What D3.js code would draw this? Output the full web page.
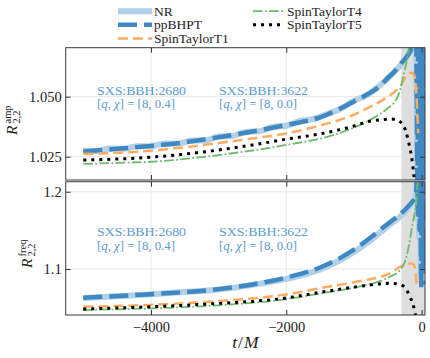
<!DOCTYPE html>
<html><head><meta charset="utf-8">
<script src="https://cdn.jsdelivr.net/npm/d3@7"></script>
<style>
body{margin:0;background:#fff}
svg{display:block}
</style>
</head><body>
<svg id="c" width="430" height="358" style="font-family:'Liberation Serif','DejaVu Serif',serif"></svg>
<script>
// ---------------- data ----------------
const seriesNames = ["NR","ppBHPT","SpinTaylorT1","SpinTaylorT4","SpinTaylorT5"];
const xTicks = [-4000,-2000,0];
const ampTicks = [1.025,1.050];
const freqTicks = [1.1,1.2];
const shadeRange = [-300,50];
const annLines = [["SXS:BBH:2680","8, 0.4"],["SXS:BBH:3622","8, 0.0"]];

// amplitude ratio panel
const nrAmpT = [-5000,-4800,-4600,-4400,-4200,-4000,-3800,-3600,-3400,-3200,-3000,-2800,-2600,-2400,-2200,-2000,-1800,-1600,-1400,-1200,-1000,-800,-600,-400,-200,-150,-120,-100,-88,-76,-64,-52,-40,-28,-16,-4,8,20,32,44];
const nrAmp  = [1.0276,1.0274,1.0284,1.0283,1.0294,1.0293,1.0305,1.0304,1.0317,1.0318,1.0334,1.0336,1.0353,1.0356,1.0374,1.0379,1.0399,1.0407,1.0427,1.0449,1.0483,1.0508,1.0551,1.0604,1.0676,1.0705,1.0740,1.0790,1.0850,1.0600,1.0200,1.0750,1.0300,1.0900,1.0000,1.0900,1.0100,1.0850,1.0000,1.0800];
const ppAmpT = [-5000,-4500,-4000,-3500,-3000,-2500,-2000,-1500,-1000,-800,-600,-500,-400,-300,-200,-150,-120,-100,-85,-72,-60,-48,-36,-24,-12,0,12,24,36,48];
const ppAmp  = [1.0272,1.0283,1.0295,1.0310,1.0331,1.0355,1.0382,1.0414,1.0480,1.0510,1.0548,1.0578,1.0605,1.0640,1.0674,1.0700,1.0730,1.0780,1.0900,1.0500,1.0100,1.0850,1.0050,1.0900,1.0000,1.0950,1.0050,1.0900,1.0100,1.0800];
const t1AmpT = [-5000,-4000,-3000,-2500,-2000,-1500,-1000,-800,-500,-320,-200,-150,-110,-90,-75,-62,-50];
const t1Amp  = [1.0261,1.0275,1.0307,1.0326,1.0347,1.0380,1.0425,1.0452,1.0500,1.0542,1.0595,1.0600,1.0590,1.0565,1.0500,1.0417,1.0349];
const t4AmpT = [-5000,-4500,-4000,-3000,-2000,-1310,-800,-500,-380,-320,-270,-230,-195,-170,-150];
const t4Amp  = [1.0220,1.0224,1.0229,1.0257,1.0299,1.0340,1.0398,1.0452,1.0486,1.0525,1.0585,1.0635,1.0690,1.0740,1.0800];
const t5AmpT = [-5000,-4000,-3000,-2500,-2000,-1500,-1000,-800,-600,-467,-369,-272,-200,-173,-148,-130,-115,-100];
const t5Amp  = [1.0236,1.0248,1.0278,1.0299,1.0323,1.0345,1.0378,1.0396,1.0404,1.0407,1.0403,1.0382,1.0320,1.0286,1.0250,1.0211,1.0174,1.0120];

// frequency ratio panel
const nrFreqT = [-5000,-4500,-4000,-3500,-3000,-2500,-2000,-1500,-1000,-750,-500,-350,-220,-140,-100,-85,-72,-60,-48,-36,-24,-12,0,12,24,36,48];
const nrFreq  = [1.0625,1.0648,1.0672,1.0702,1.0736,1.0795,1.0872,1.0995,1.1220,1.1375,1.1555,1.1655,1.1765,1.1850,1.1900,1.1950,1.2200,1.1650,1.2200,1.1400,1.2200,1.0900,1.2250,1.1000,1.2200,1.1200,1.2200];
const ppFreqT = [-5000,-4000,-3000,-2500,-2000,-1500,-1000,-750,-500,-350,-220,-140,-100,-80,-66,-54,-42,-30,-18,-6,6,18,30,42];
const ppFreq  = [1.0629,1.0675,1.0740,1.0800,1.0890,1.1020,1.1250,1.1410,1.1585,1.1685,1.1790,1.1870,1.1920,1.2000,1.2250,1.1700,1.2250,1.1500,1.2250,1.0750,1.2250,1.1000,1.2250,1.0800];
const t1FreqT = [-5000,-4000,-3000,-2000,-1450,-960,-470,-270,-173,-120,-99,-85,-74,-65];
const t1Freq  = [1.0512,1.0536,1.0585,1.0670,1.0760,1.0836,1.0944,1.1050,1.1070,1.1060,1.1010,1.0920,1.0800,1.0750];
const t4FreqT = [-5000,-4000,-3000,-2000,-1450,-960,-470,-320,-247,-200,-173,-130,-99,-74,-55];
const t4Freq  = [1.0470,1.0491,1.0530,1.0610,1.0690,1.0765,1.0900,1.0987,1.1094,1.1250,1.1380,1.1600,1.1740,1.1920,1.2200];
const t5FreqT = [-5000,-4000,-3000,-2000,-1450,-960,-470,-320,-221,-173,-124,-100,-85];
const t5Freq  = [1.0483,1.0512,1.0555,1.0625,1.0706,1.0770,1.0815,1.0800,1.0728,1.0640,1.0534,1.0440,1.0380];

// ---------------- styles ----------------
const FONT = "'Liberation Serif','DejaVu Serif',serif";
const styles = {
  NR:           {color:"#b2d1e8", width:6,   dash:null},
  ppBHPT:       {color:"#4088c2", width:4.5, dash:"19 7"},
  SpinTaylorT1: {color:"#ffac62", width:2.5, dash:"10 5"},
  SpinTaylorT4: {color:"#6bbc6b", width:1.8, dash:"9.6 2.4 1.8 2.4"},
  SpinTaylorT5: {color:"#000000", width:3,   dash:"3 5"}
};
const annColor = "#5a9bd0";

const svg = d3.select("#c");
const L = 65.7, Rr = 425;
const x = d3.scaleLinear().domain([-5260,50]).range([L,Rr]);

const zip = (t,v) => t.map((d,i)=>[d,v[i]]);
const panels = [
  {top:47.7, bot:180, dom:[1.0153,1.0704], ticks:ampTicks, fmt:".3f", sup:"amp",
   lx:17, ly:135, ann:[94.5,108.3], xlabels:false,
   data:{NR:zip(nrAmpT,nrAmp), ppBHPT:zip(ppAmpT,ppAmp), SpinTaylorT1:zip(t1AmpT,t1Amp), SpinTaylorT4:zip(t4AmpT,t4Amp), SpinTaylorT5:zip(t5AmpT,t5Amp)}},
  {top:181.7, bot:315, dom:[1.0405,1.213], ticks:freqTicks, fmt:".1f", sup:"freq",
   lx:32, ly:268, ann:[236,249.8], xlabels:true,
   data:{NR:zip(nrFreqT,nrFreq), ppBHPT:zip(ppFreqT,ppFreq), SpinTaylorT1:zip(t1FreqT,t1Freq), SpinTaylorT4:zip(t4FreqT,t4Freq), SpinTaylorT5:zip(t5FreqT,t5Freq)}}
];

panels.forEach((p,pi)=>{
  const y = d3.scaleLinear().domain(p.dom).range([p.bot,p.top]);
  const g = svg.append("g");
  const cid = "clip"+pi;
  svg.append("clipPath").attr("id",cid).append("rect")
    .attr("x",L).attr("y",p.top).attr("width",Rr-L).attr("height",p.bot-p.top);
  // grid
  g.selectAll(".gx").data(xTicks).join("line")
    .attr("x1",d=>x(d)).attr("x2",d=>x(d)).attr("y1",p.top).attr("y2",p.bot)
    .attr("stroke","#e4e4e4").attr("stroke-width",0.9);
  g.selectAll(".gy").data(p.ticks).join("line")
    .attr("x1",L).attr("x2",Rr).attr("y1",d=>y(d)).attr("y2",d=>y(d))
    .attr("stroke","#e4e4e4").attr("stroke-width",0.9);
  // shading
  g.append("rect").attr("x",x(shadeRange[0])).attr("y",p.top)
    .attr("width",x(shadeRange[1])-x(shadeRange[0])).attr("height",p.bot-p.top)
    .attr("fill","#dedede");
  // lines
  const lg = g.append("g").attr("clip-path",`url(#${cid})`);
  const line = d3.line().x(d=>x(d[0])).y(d=>y(d[1])).curve(d3.curveMonotoneX);
  seriesNames.forEach(n=>{
    const s = styles[n];
    lg.append("path").datum(p.data[n]).attr("d",line)
      .attr("fill","none").attr("stroke",s.color).attr("stroke-width",s.width)
      .attr("stroke-dasharray",s.dash).attr("stroke-linejoin","round");
  });
  // annotations (two lines)
  [97,219].forEach((ax,i)=>{
    g.append("text").attr("x",ax).attr("y",p.ann[0])
      .attr("textLength",89).attr("lengthAdjust","spacingAndGlyphs")
      .style("font-size","12.5px").style("fill",annColor).style("font-family",FONT)
      .text(annLines[i][0]);
    const t2 = g.append("text").attr("x",ax).attr("y",p.ann[1])
      .attr("textLength",78).attr("lengthAdjust","spacingAndGlyphs")
      .style("font-size","12.5px").style("fill",annColor).style("font-family",FONT);
    t2.append("tspan").text("[");
    t2.append("tspan").attr("font-style","italic").text("q");
    t2.append("tspan").text(", ");
    t2.append("tspan").attr("font-style","italic").text("χ");
    t2.append("tspan").text("] = [" + annLines[i][1] + "]");
  });
  // axes
  const ax = (a)=>a.tickSizeOuter(0);
  const left = g.append("g").attr("transform",`translate(${L},0)`)
    .call(ax(d3.axisLeft(y).tickValues(p.ticks).tickSize(-5).tickPadding(4).tickFormat(d3.format(p.fmt))));
  const right = g.append("g").attr("transform",`translate(${Rr},0)`)
    .call(ax(d3.axisRight(y).tickValues(p.ticks).tickSize(-5).tickFormat("")));
  const bottom = g.append("g").attr("transform",`translate(0,${p.bot})`)
    .call(ax(d3.axisBottom(x).tickValues(xTicks).tickSize(-5).tickPadding(7).tickFormat(p.xlabels?d3.format("d"):"")));
  const topA = g.append("g").attr("transform",`translate(0,${p.top})`)
    .call(ax(d3.axisTop(x).tickValues(xTicks).tickSize(-5).tickFormat("")));
  [left,right,bottom,topA].forEach(a=>{
    a.attr("font-family",null).attr("font-size",null);
    a.select(".domain").remove();
    a.selectAll(".tick line").attr("stroke","#333").attr("stroke-width",1);
    a.selectAll("text").style("font-size","14.5px").style("font-family",FONT).style("fill","#222");
  });
  // frame
  g.append("rect").attr("x",L).attr("y",p.top).attr("width",Rr-L).attr("height",p.bot-p.top)
    .attr("fill","none").attr("stroke","#3a3a3a").attr("stroke-width",1);
  // y label: R^{sup}_{2,2}
  const yl = svg.append("g").attr("transform",`translate(${p.lx},${p.ly}) rotate(-90)`);
  const yt = yl.append("text").attr("x",0).attr("y",0).style("font-family",FONT).style("fill","#222");
  yt.append("tspan").attr("font-size",15.5).attr("font-style","italic").text("R");
  yt.append("tspan").attr("x",11.5).attr("dy",-6.5).attr("font-size",10.5).text(p.sup);
  yt.append("tspan").attr("x",11.5).attr("dy",9.5).attr("font-size",10.5).text("2,2");
});

// x label
const xl = svg.append("text").attr("x",(L+Rr)/2).attr("y",348).attr("text-anchor","middle")
  .style("font-size","17.5px").style("font-family",FONT).style("fill","#222");
xl.append("tspan").attr("font-style","italic").text("t");
xl.append("tspan").attr("dx",1).text("/");
xl.append("tspan").attr("dx",1).attr("font-style","italic").text("M");

// legend
const legItems = [
  {n:"NR", col:0, row:0},{n:"ppBHPT", col:0, row:1},{n:"SpinTaylorT1", col:0, row:2},
  {n:"SpinTaylorT4", col:1, row:0},{n:"SpinTaylorT5", col:1, row:1}
];
const legX = [[118,152,154],[253,283,287]];
const legY = [11.2,24.7,38.5];
const leg = svg.append("g");
legItems.forEach(it=>{
  const s = styles[it.n], xs = legX[it.col], yy = legY[it.row];
  leg.append("line").attr("x1",xs[0]).attr("x2",xs[1]).attr("y1",yy).attr("y2",yy)
    .attr("stroke",s.color).attr("stroke-width",s.width).attr("stroke-dasharray",s.dash);
  leg.append("text").attr("x",xs[2]).attr("y",yy+4.6).style("font-size","13.5px")
    .style("font-family",FONT).style("fill","#222").text(it.n);
});
</script>
</body></html>
